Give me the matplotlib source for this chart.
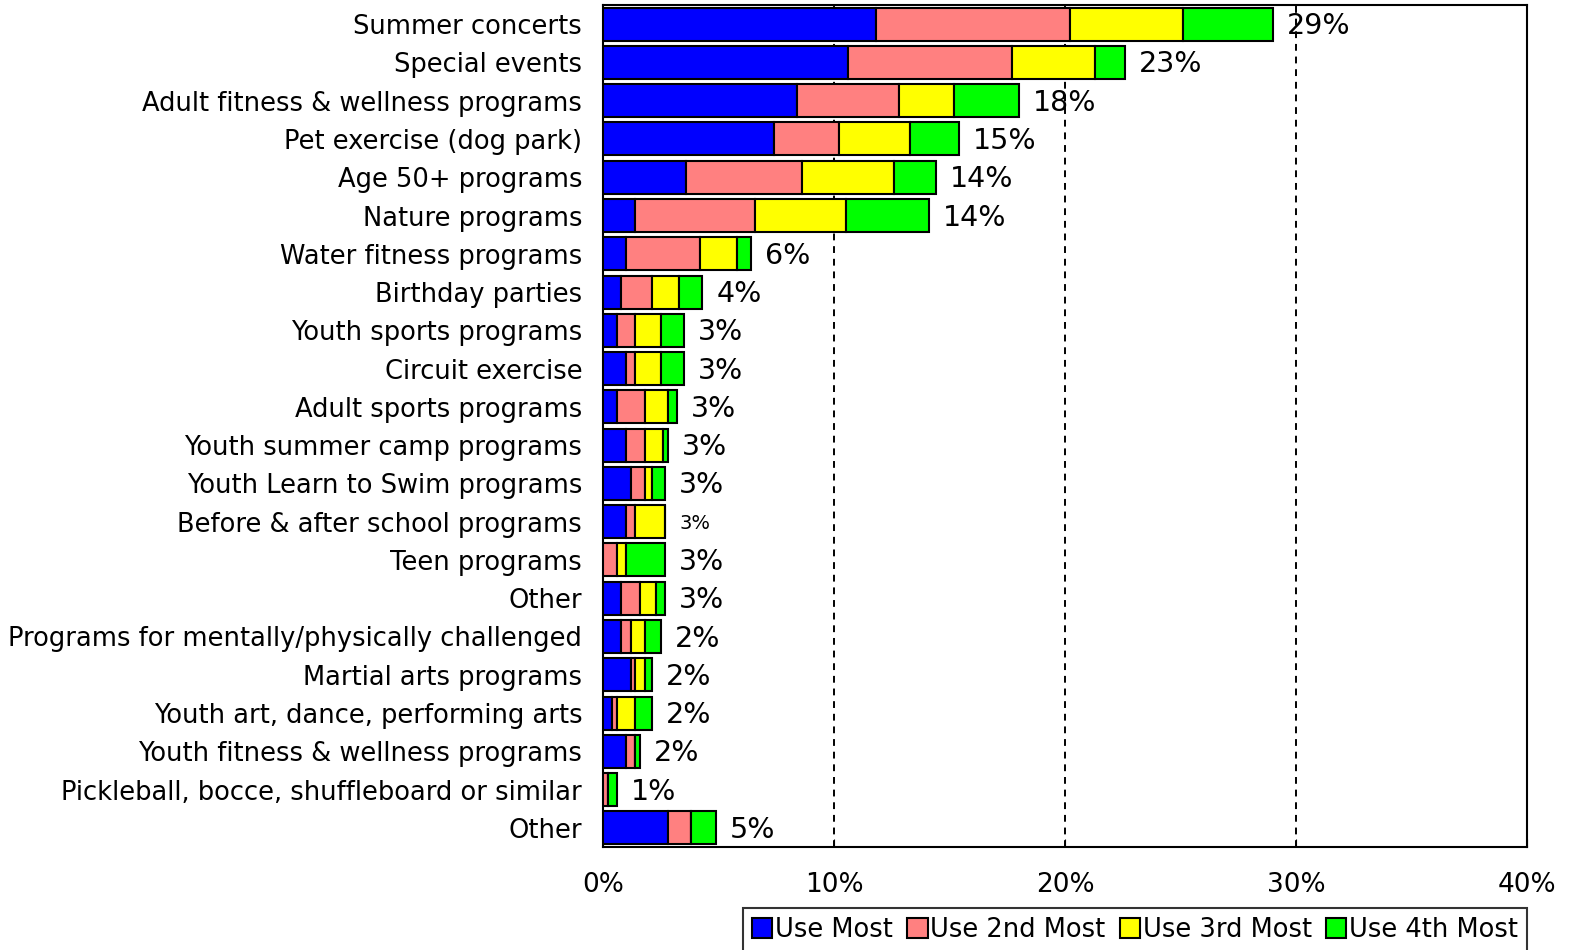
import matplotlib
matplotlib.use("Agg")
import matplotlib.pyplot as plt
import numpy as np

plt.rcParams['font.family'] = ['DejaVu Sans']

categories = [
    "Summer concerts", "Special events", "Adult fitness & wellness programs",
    "Pet exercise (dog park)", "Age 50+ programs", "Nature programs",
    "Water fitness programs", "Birthday parties", "Youth sports programs",
    "Circuit exercise", "Adult sports programs", "Youth summer camp programs",
    "Youth Learn to Swim programs", "Before & after school programs",
    "Teen programs", "Other", "Programs for mentally/physically challenged",
    "Martial arts programs", "Youth art, dance, performing arts",
    "Youth fitness & wellness programs",
    "Pickleball, bocce, shuffleboard or similar", "Other",
]

use_most = [11.8, 10.6, 8.4, 7.4, 3.6, 1.4, 1.0, 0.8, 0.6, 1.0, 0.6, 1.0,
            1.2, 1.0, 0.0, 0.8, 0.8, 1.2, 0.4, 1.0, 0.0, 2.8]
use_2nd = [8.4, 7.1, 4.4, 2.8, 5.0, 5.2, 3.2, 1.3, 0.8, 0.4, 1.2, 0.8,
           0.6, 0.4, 0.6, 0.8, 0.4, 0.2, 0.2, 0.4, 0.2, 1.0]
use_3rd = [4.9, 3.6, 2.4, 3.1, 4.0, 3.9, 1.6, 1.2, 1.1, 1.1, 1.0, 0.8,
           0.3, 1.3, 0.4, 0.7, 0.6, 0.4, 0.8, 0.0, 0.0, 0.0]
use_4th = [3.9, 1.3, 2.8, 2.1, 1.8, 3.6, 0.6, 1.0, 1.0, 1.0, 0.4, 0.2,
           0.6, 0.0, 1.7, 0.4, 0.7, 0.3, 0.7, 0.2, 0.4, 1.1]
total_labels = ["29%", "23%", "18%", "15%", "14%", "14%", "6%", "4%", "3%",
                "3%", "3%", "3%", "3%", "3%", "3%", "3%", "2%", "2%", "2%",
                "2%", "1%", "5%"]

series_names = ["Use Most", "Use 2nd Most", "Use 3rd Most", "Use 4th Most"]
series_colors = ["#0000FF", "#FF8080", "#FFFF00", "#00FF00"]
x_ticks = [0, 10, 20, 30, 40]
x_tick_labels = ["0%", "10%", "20%", "30%", "40%"]

fig = plt.figure(figsize=(15.74, 9.5), dpi=100)
ax = fig.add_axes([603/1574, 1 - 847/950, (1527-603)/1574, (847-5)/950])

y = np.arange(len(categories))
left = np.zeros(len(categories))
for vals, name, col in zip([use_most, use_2nd, use_3rd, use_4th], series_names, series_colors):
    v = np.array(vals)
    ax.barh(y, v, left=left, height=0.86, color=col, edgecolor='black',
            linewidth=1.5, label=name, zorder=3)
    left = left + v

for i, (tot, lab) in enumerate(zip(left, total_labels)):
    small = (categories[i] == "Before & after school programs")
    ax.annotate(lab, xy=(tot, i), xytext=(10, -1.5), textcoords='offset points',
                va='center', ha='left', fontsize=14 if small else 20.5, zorder=4)

for xv in [10, 20, 30]:
    ax.axvline(xv, color='black', linestyle=(0, (3.5, 3)), linewidth=1.4, zorder=1)

ax.set_xlim(0, 40)
ax.set_ylim(len(categories) - 0.5, -0.5)
ax.set_xticks(x_ticks)
ax.set_xticklabels(x_tick_labels, fontsize=19)
ax.set_yticks(y)
ax.set_yticklabels(categories, fontsize=18.5)
ax.tick_params(axis='y', length=0, pad=15)
ax.tick_params(axis='x', direction='in', length=6, pad=18)
for s in ax.spines.values():
    s.set_color('black')
    s.set_linewidth(1.5)

leg = ax.legend(loc='upper right', bbox_to_anchor=(1.0, -0.072), ncol=4,
                fontsize=18.5, frameon=True, fancybox=False, borderaxespad=0,
                handlelength=0.8, handleheight=0.8, handletextpad=0.1,
                columnspacing=0.55, borderpad=0.35)
leg.get_frame().set_edgecolor('black')
leg.get_frame().set_linewidth(1.5)

fig.savefig("out.png", dpi=100)
